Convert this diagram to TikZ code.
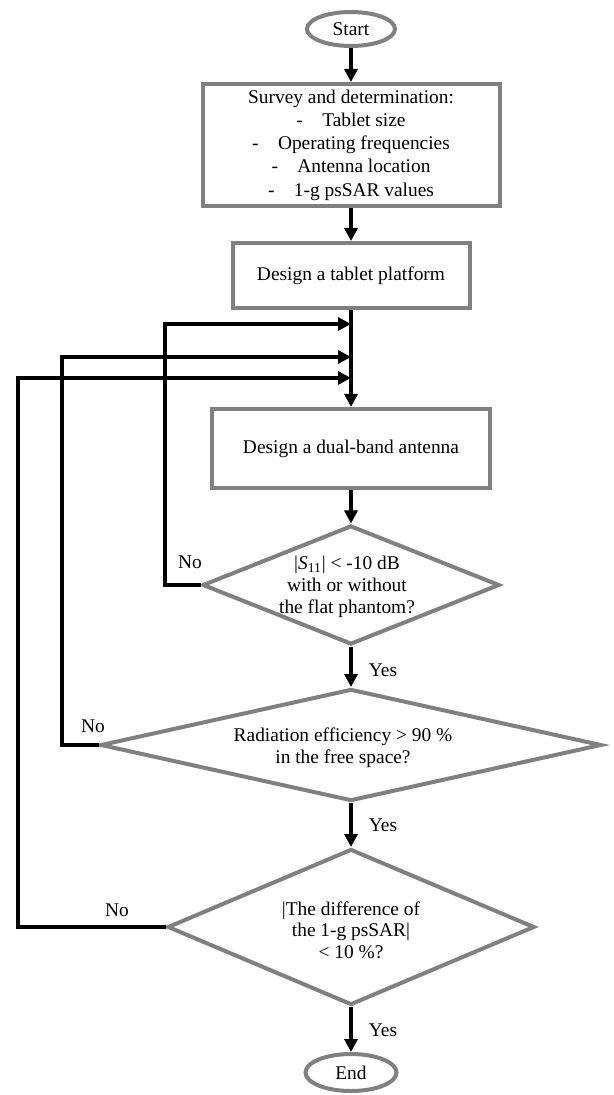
\documentclass[tikz,border=0pt]{standalone}
\usepackage{fontspec}
\setmainfont{Liberation Serif}
\usetikzlibrary{shapes.geometric,arrows.meta}
\definecolor{bordergray}{RGB}{128,128,128}
\begin{document}
\begin{tikzpicture}[x=0.5pt,y=-0.5pt,
  every node/.style={font=\fontsize{9.7}{11.6}\selectfont},
  term/.style={ellipse,draw=bordergray,line width=2pt,inner sep=0pt},
  procbox/.style={rectangle,draw=bordergray,line width=2pt,align=center,inner sep=0pt},
  dec/.style={diamond,draw=bordergray,line width=2pt,inner sep=0pt},
  dtext/.style={align=center,font=\fontsize{9.7}{10.85}\selectfont,inner sep=0pt},
  flow/.style={draw=black,line width=2pt,-{Triangle[length=6.5pt,width=6.5pt]}},
  lbl/.style={inner sep=0pt}]
\useasboundingbox (0,0) rectangle (614,1095);

% nodes
\node[term,minimum width=44pt,minimum height=17pt] (start) at (351,29) {Start};
\node[procbox,minimum width=148.5pt,minimum height=61pt] (survey) at (351,145)
  {Survey and determination:\\
   -\hspace{1em}Tablet size\\
   -\hspace{1em}Operating frequencies\\
   -\hspace{1em}Antenna location\\
   -\hspace{1em}1-g psSAR values};
\node[procbox,minimum width=118.5pt,minimum height=32.5pt] (tablet) at (351,275.5) {Design a tablet platform};
\node[procbox,minimum width=139pt,minimum height=39.5pt] (dual) at (351,448.5) {Design a dual-band antenna};

\node[dec,minimum width=148.5pt,minimum height=59.5pt] (d1) at (351,585) {};
\node[dtext] (t1) at (347,587) {|\textit{S}\textsubscript{11}| < -10 dB\\with or without\\the flat phantom?};

\node[dec,minimum width=250.5pt,minimum height=56pt] (d2) at (351,745) {};
\node[dtext] (t2) at (343,748) {Radiation efficiency > 90 \%\\in the free space?};

\node[dec,minimum width=183.5pt,minimum height=78pt] (d3) at (351,927) {};
\node[dtext] (t3) at (351,930) {|The difference of\\the 1-g psSAR|\\< 10 \%?};

\node[term,minimum width=45.5pt,minimum height=18.5pt] (end) at (351,1072.5) {End};

% labels
\node[lbl] (no1) at (190,562) {No};
\node[lbl] (no2) at (93,726) {No};
\node[lbl] (no3) at (117,910) {No};
\node[lbl] (yes1) at (383,670) {Yes};
\node[lbl] (yes2) at (383,825) {Yes};
\node[lbl] (yes3) at (383,1030) {Yes};

% helper coordinates
\coordinate (m1) at (351,324);
\coordinate (m2) at (351,357);
\coordinate (m3) at (351,378);
\coordinate (c1) at (165,0);
\coordinate (c2) at (62,0);
\coordinate (c3) at (18,0);

% connectors
\draw[flow] (start) -- (survey);
\draw[flow] (survey) -- (tablet);
\draw[flow] (tablet) -- (dual);
\draw[flow] (dual) -- (d1);
\draw[flow] (d1) -- (d2);
\draw[flow] (d2) -- (d3);
\draw[flow] (d3) -- (end);

\draw[flow] (d1.west) -- (d1.west -| c1) |- (m1);
\draw[flow] (d2.west) -- (d2.west -| c2) |- (m2);
\draw[flow] (d3.west) -- (d3.west -| c3) |- (m3);
\end{tikzpicture}
\end{document}
